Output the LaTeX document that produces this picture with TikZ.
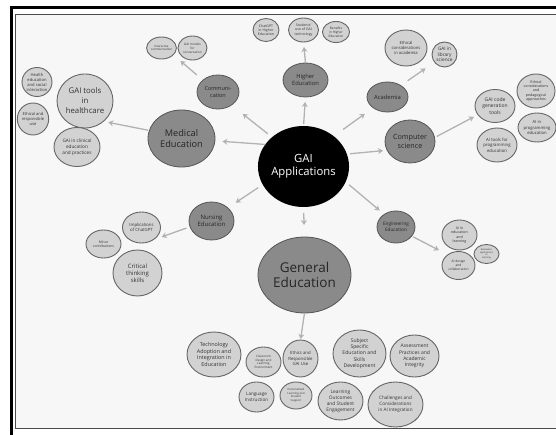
\documentclass[tikz,border=0pt]{standalone}
\usepackage{fontspec}
\setmainfont{Open Sans}
\usetikzlibrary{shapes.geometric,arrows.meta}
\newcommand\myfs[2]{\fontsize{#1}{#2}\selectfont}
\definecolor{leaff}{HTML}{D2D2D2}
\definecolor{leafd}{HTML}{666666}
\definecolor{midf}{HTML}{8A8A8A}
\definecolor{midd}{HTML}{555555}
\definecolor{arrc}{HTML}{B2B2B2}
\definecolor{bgc}{HTML}{F7F7F7}
\begin{document}
\begin{tikzpicture}[x=1pt,y=-1pt,
  el/.style 2 args={ellipse, inner sep=0pt, outer sep=0pt, minimum width=#1pt, minimum height=#2pt, align=center},
  leaf/.style={draw=leafd, fill=leaff, line width=0.9pt, text=black!80},
  mid/.style={draw=midd, fill=midf, line width=0.8pt, text=black!85},
  arr/.style={draw=arrc, line width=1.3pt, -{Stealth[length=5pt,width=6pt]}}
]
\useasboundingbox (0,0) rectangle (556,435);
\fill[white] (0,0) rectangle (556,435);
\fill[bgc] (15.5,14.5) rectangle (560,428.5);
\draw[line width=1.3pt, black!70] (15.5,14.5) rectangle (570,428.5);
\draw[line width=3pt] (11,7.5) rectangle (575,440);

% main nodes
\node[el={91}{81}, fill=black, text=white, font=\myfs{11.3}{13}] (gai) at (303.5,166.5) {GAI\\Applications};
\node[el={93}{76}, mid, font=\myfs{13.5}{15}] (gened) at (304.5,275) {General\\Education};
\node[el={67}{57}, mid, font=\myfs{9.2}{11.5}] (med) at (181.5,138.5) {Medical\\Education};
\node[el={42}{34}, mid, font=\myfs{5.5}{6.8}] (comm) at (218,92) {Communi-\\cation};
\node[el={45}{34}, mid, font=\myfs{5.8}{7.2}] (higher) at (305.5,80) {Higher\\Education};
\node[el={41}{30}, mid, font=\myfs{5.8}{7}] (acad) at (387.5,97) {Academia};
\node[el={50}{43}, mid, font=\myfs{7.2}{9}] (cs) at (410,141.5) {Computer\\science};
\node[el={38}{32}, mid, font=\myfs{4.7}{5.8}] (eng) at (396,227) {Engineering\\Education};
\node[el={45}{38}, mid, font=\myfs{6}{7.2}] (nurs) at (211.5,221) {Nursing\\Education};

% medical leaves
\node[el={56}{54}, leaf, font=\myfs{7.8}{10}] (mh1) at (85,101) {GAI tools\\in\\healthcare};
\node[el={30}{29}, leaf, font=\myfs{4.1}{5}] (mh2) at (37,82) {Health\\education\\and social\\interaction};
\node[el={30}{32}, leaf, font=\myfs{4.1}{5.2}] (mh3) at (33,119) {Ethical and\\responsible\\use};
\node[el={46}{39}, leaf, font=\myfs{4.7}{5.8}] (mh4) at (77,147) {GAI in clinical\\education\\and practices};
% communication leaves
\node[el={29}{22}, leaf, font=\myfs{2.9}{3.6}] (cl1) at (161.5,48) {Interactive\\communication};
\node[el={29}{24}, leaf, font=\myfs{3.1}{3.9}] (cl2) at (192.5,48) {GAI models\\for\\conversation};
% higher education leaves
\node[el={26}{23}, leaf, font=\myfs{3.5}{4.3}] (hl1) at (266,30) {ChatGPT\\in Higher\\Education};
\node[el={30}{24}, leaf, font=\myfs{3.5}{4.3}] (hl2) at (303.5,30) {Students'\\use of GAI\\technology};
\node[el={27}{21}, leaf, font=\myfs{3.2}{3.9}] (hl3) at (336,32) {Benefits\\in Higher\\Education};
% academia leaves
\node[el={42}{36}, leaf, font=\myfs{4.2}{5.3}] (al1) at (406,48) {Ethical\\considerations\\in academia};
\node[el={25}{25}, leaf, font=\myfs{4.7}{5.8}] (al2) at (444.5,54.5) {GAI in\\library\\science};
% computer science leaves
\node[el={40}{33}, leaf, font=\myfs{5}{6.2}] (csl1) at (495,106) {GAI code\\generation\\tools};
\node[el={38}{34}, leaf, font=\myfs{3.6}{4.3}] (csl2) at (536,91) {Ethical\\considerations\\and\\pedagogical\\approaches};
\node[el={38}{29}, leaf, font=\myfs{4.2}{5.3}] (csl3) at (537,127.5) {AI in\\programming\\education};
\node[el={40}{34}, leaf, font=\myfs{4.3}{5.4}] (csl4) at (497,145) {AI tools for\\programming\\education};
% engineering leaves
\node[el={35}{30}, leaf, font=\myfs{3.6}{4.4}] (el1) at (459.5,235) {AI in\\education\\and\\learning};
\node[el={25}{19}, leaf, font=\myfs{2.3}{2.8}] (el2) at (486.5,254) {Evaluation\\applications\\in\\learning};
\node[el={33}{28}, leaf, font=\myfs{3.3}{4}] (el3) at (458.5,265.5) {AI design\\and\\collaboration};
% nursing leaves
\node[el={38}{31}, leaf, font=\myfs{4.3}{5.4}] (nl1) at (141.5,227.5) {Implications\\of ChatGPT};
\node[el={35}{28}, leaf, font=\myfs{3.4}{4.2}] (nl2) at (103.5,244) {Minor\\contributions};
\node[el={49}{46}, leaf, font=\myfs{6}{7.2}] (nl3) at (137.5,273) {Critical\\thinking\\skills};
% general education leaves
\node[el={54}{45}, leaf, font=\myfs{5.4}{6.8}] (g1) at (214,354.5) {Technology\\Adoption and\\Integration in\\Education};
\node[el={35}{30}, leaf, font=\myfs{3}{3.7}] (g2) at (263.5,362) {Classroom\\Design and\\Learning\\Environment};
\node[el={35}{37}, leaf, font=\myfs{4.3}{5.5}] (g3) at (300.5,358.5) {Ethics and\\Responsible\\GAI Use};
\node[el={53}{47}, leaf, font=\myfs{5.1}{6.3}] (g4) at (359.5,353.5) {Subject\\Specific\\Education and\\Skills\\Development};
\node[el={49}{42}, leaf, font=\myfs{5}{6.2}] (g5) at (414.5,356) {Assessment\\Practices and\\Academic\\Integrity};
\node[el={35}{30}, leaf, font=\myfs{4.6}{5.8}] (g6) at (256.5,397) {Language\\Instruction};
\node[el={32}{27}, leaf, font=\myfs{2.8}{3.5}] (g7) at (296,395.5) {Personalized\\Learning and\\Student\\Support};
\node[el={45}{38}, leaf, font=\myfs{4.8}{6}] (g8) at (340.5,401) {Learning\\Outcomes\\and Student\\Engagement};
\node[el={55}{45}, leaf, font=\myfs{4.6}{6}] (g9) at (395.5,404.5) {Challenges and\\Considerations\\in AI Integration};

% connectors
\draw[arr, shorten <=2pt, shorten >=5pt] (gai.north) -- (higher.south);
\draw[arr, shorten <=1pt, shorten >=5pt] (higher.north) -- (hl2.south);
\draw[arr, shorten <=11.6pt, shorten >=10.3pt] (gai.45) -- (acad.217);
\draw[arr, shorten <=8.4pt, shorten >=11pt] (acad.41) -- (al2.218);
\draw[arr, shorten <=3.3pt, shorten >=4.2pt] (gai.16) -- (cs.201);
\draw[arr, shorten <=2.5pt, shorten >=4.6pt] (cs.9.5) -- (csl1.207.6);
\draw[arr, shorten <=4.6pt, shorten >=6pt] (gai.-20) -- (eng.133);
\draw[arr, shorten <=1.7pt, shorten >=10pt] (eng.-30) -- (el3.135);
\draw[arr, shorten <=6pt, shorten >=12pt] (gai.south) -- (gened.north);
\draw[arr, shorten <=1pt, shorten >=1pt] (gened.south) -- (g3.north);
\draw[arr, shorten <=5.4pt, shorten >=9.5pt] (gai.204) -- (nurs.39);
\draw[arr, shorten <=3.9pt, shorten >=10pt] (nurs.195) -- (nl1.-50);
\draw[arr, shorten <=0pt, shorten >=7.5pt] (gai.150) -- (med.-4.5);
\draw[arr, shorten <=5.5pt, shorten >=14.3pt] (gai.137) -- (comm.-44);
\draw[arr, shorten <=8pt, shorten >=9.4pt] (comm.142) -- (cl1.-30);
\draw[arr, shorten <=1.2pt, shorten >=5pt] (med.166) -- (mh1.-48);
\end{tikzpicture}
\end{document}
